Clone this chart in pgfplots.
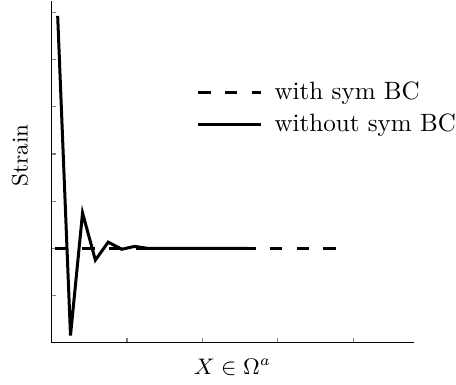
\documentclass[border=0pt]{standalone}
\usepackage{pgfplots}
\pgfplotsset{compat=1.18}

\begin{document}
\begin{tikzpicture}
\begin{axis}[
    scale only axis,
    width=144.5pt, height=136.5pt,
    xmin=0, xmax=4.8, ymin=0, ymax=7.25,
    axis x line=bottom, axis y line=left,
    axis line style={-, line width=0.6pt},
    xtick={1,2,3,4}, ytick={1,2,3,4,5,6,7},
    xticklabels={}, yticklabels={},
    tick align=inside,
    major tick length=1.8pt,
    tick style={line width=0.5pt},
    xlabel={$X \in \Omega^a$},
    ylabel={Strain},
    label style={font=\small},
    xlabel style={at={(axis description cs:0.5,0)}, anchor=north, yshift=-3pt},
    ylabel style={at={(axis description cs:-0.031,0.548)}, anchor=south, inner ysep=4.7pt},
    legend style={draw=none, fill=none, inner xsep=0pt, at={(0.399,0.793)},
        anchor=north west, cells={anchor=west}, nodes={inner xsep=0pt}},
    legend image code/.code={\draw[#1] (0pt,0pt) -- (25pt,0pt); \path (30pt,0pt);},
]
\addplot[black, line width=1.2pt, dash pattern=on 5pt off 5.7pt]
    coordinates {(0.05,2.0) (3.92,2.0)};
\addplot[black, line width=1.2pt]
    coordinates {(0.08,6.93) (0.25,0.15) (0.41,2.75) (0.58,1.75) (0.75,2.13)
                 (0.93,1.98) (1.10,2.04) (1.27,2.0) (1.43,2.0) (1.60,2.0)
                 (1.77,2.0) (1.94,2.0) (2.10,2.0) (2.27,2.0) (2.44,2.0) (2.60,2.0)};
\legend{with sym BC, without sym BC}
\end{axis}
\end{tikzpicture}
\end{document}
